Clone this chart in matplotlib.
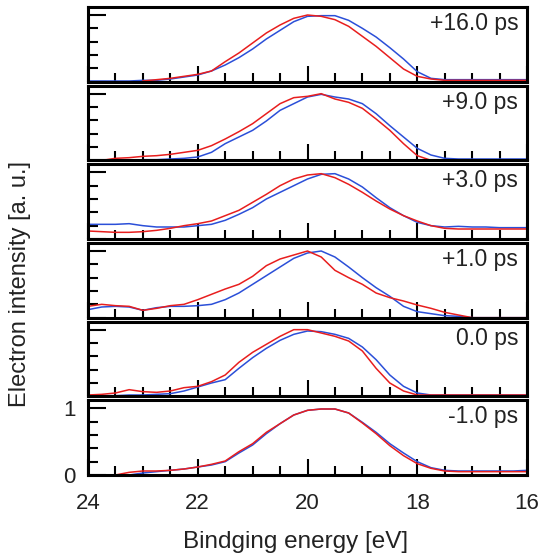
import numpy as np
import matplotlib
matplotlib.use("Agg")
import matplotlib.pyplot as plt
from matplotlib.ticker import MultipleLocator

plt.rcParams['font.family'] = ['Liberation Sans', 'DejaVu Sans']

# Binding energy grid (eV), 0.25 eV steps from 24 down to 16
energy = [24.0, 23.75, 23.5, 23.25, 23.0, 22.75, 22.5, 22.25, 22.0, 21.75, 21.5,
          21.25, 21.0, 20.75, 20.5, 20.25, 20.0, 19.75, 19.5, 19.25, 19.0, 18.75,
          18.5, 18.25, 18.0, 17.75, 17.5, 17.25, 17.0, 16.75, 16.5, 16.25, 16.0]

nan = np.nan
delays = ['+16.0 ps', '+9.0 ps', '+3.0 ps', '+1.0 ps', '0.0 ps', '-1.0 ps']

red_16 = [nan, nan, nan, nan, 0.01, 0.03, 0.05, 0.08, 0.11, 0.16, 0.30,
          0.43, 0.58, 0.73, 0.85, 0.95, 1.00, 0.98, 0.93, 0.83, 0.68, 0.53,
          0.36, 0.19, 0.08, 0.04, 0.02, 0.02, 0.02, 0.02, 0.02, 0.02, 0.02]
blue_16 = [0.01, 0.01, 0.01, 0.01, 0.02, 0.02, 0.04, 0.07, 0.10, 0.16, 0.25,
           0.36, 0.49, 0.64, 0.77, 0.90, 0.98, 0.99, 0.99, 0.92, 0.80, 0.67,
           0.51, 0.34, 0.15, 0.05, 0.03, 0.03, 0.03, 0.03, 0.03, 0.03, 0.03]

red_9 = [nan, 0.0, 0.03, 0.04, 0.06, 0.07, 0.09, 0.12, 0.15, 0.22, 0.32,
         0.43, 0.55, 0.70, 0.85, 0.94, 0.96, 1.00, 0.92, 0.87, 0.78, 0.62,
         0.45, 0.25, 0.07, 0.0, 0.0, 0.0, 0.0, 0.0, 0.0, 0.0, 0.0]
blue_9 = [nan, nan, nan, nan, 0.01, 0.01, 0.02, 0.03, 0.05, 0.12, 0.25,
          0.35, 0.45, 0.59, 0.75, 0.85, 0.95, 0.99, 0.95, 0.92, 0.85, 0.70,
          0.52, 0.35, 0.18, 0.08, 0.03, 0.02, 0.02, 0.02, 0.02, 0.02, 0.02]

red_3 = [0.12, 0.11, 0.10, 0.10, 0.11, 0.13, 0.16, 0.20, 0.23, 0.27, 0.35,
         0.43, 0.55, 0.67, 0.80, 0.90, 0.96, 0.98, 0.92, 0.82, 0.70, 0.57,
         0.45, 0.35, 0.27, 0.20, 0.16, 0.15, 0.15, 0.15, 0.15, 0.15, 0.15]
blue_3 = [0.22, 0.22, 0.22, 0.23, 0.20, 0.18, 0.18, 0.18, 0.20, 0.22, 0.28,
          0.37, 0.47, 0.60, 0.70, 0.80, 0.90, 0.97, 0.98, 0.90, 0.78, 0.62,
          0.47, 0.35, 0.25, 0.20, 0.18, 0.19, 0.18, 0.18, 0.17, 0.17, 0.17]

red_1 = [0.17, 0.20, 0.18, 0.17, 0.11, 0.14, 0.18, 0.20, 0.27, 0.35, 0.43,
         0.50, 0.62, 0.78, 0.88, 0.94, 1.00, 0.91, 0.71, 0.60, 0.50, 0.37,
         0.30, 0.25, 0.19, 0.14, 0.08, 0.04, 0.0, 0.0, 0.0, 0.0, 0.0]
blue_1 = [0.12, 0.16, 0.17, 0.16, 0.11, 0.15, 0.17, 0.17, 0.18, 0.20, 0.27,
          0.37, 0.50, 0.63, 0.76, 0.89, 0.97, 1.00, 0.91, 0.76, 0.60, 0.45,
          0.32, 0.17, 0.09, 0.06, 0.03, 0.02, 0.0, 0.0, 0.0, 0.0, 0.0]

red_0 = [0.02, 0.03, 0.05, 0.10, 0.07, 0.06, 0.08, 0.13, 0.15, 0.22, 0.32,
         0.51, 0.66, 0.78, 0.90, 1.00, 1.00, 0.95, 0.90, 0.83, 0.68, 0.42,
         0.20, 0.08, 0.02, 0.02, 0.02, 0.02, 0.02, 0.02, 0.02, 0.02, 0.02]
blue_0 = [0.01, 0.01, 0.01, 0.02, 0.02, 0.03, 0.04, 0.08, 0.14, 0.20, 0.25,
          0.42, 0.58, 0.72, 0.84, 0.93, 0.98, 0.97, 0.93, 0.87, 0.74, 0.55,
          0.32, 0.15, 0.05, 0.02, 0.02, 0.02, 0.02, 0.02, 0.02, 0.02, 0.02]

red_m1 = [nan, nan, 0.0, 0.04, 0.06, 0.06, 0.07, 0.09, 0.12, 0.16, 0.21,
          0.35, 0.47, 0.64, 0.77, 0.90, 0.97, 0.99, 0.99, 0.93, 0.78, 0.62,
          0.44, 0.29, 0.17, 0.10, 0.06, 0.05, 0.05, 0.05, 0.05, 0.05, 0.05]
blue_m1 = [nan, nan, nan, 0.0, 0.03, 0.05, 0.07, 0.09, 0.12, 0.15, 0.20,
           0.33, 0.45, 0.62, 0.77, 0.90, 0.97, 0.99, 0.99, 0.93, 0.79, 0.64,
           0.47, 0.33, 0.20, 0.11, 0.07, 0.06, 0.06, 0.06, 0.06, 0.06, 0.07]

red_curves = [red_16, red_9, red_3, red_1, red_0, red_m1]
blue_curves = [blue_16, blue_9, blue_3, blue_1, blue_0, blue_m1]

W, H = 542, 558
fig = plt.figure(figsize=(W / 100, H / 100), dpi=100)

left_px, right_px = 88, 527
top_px, bottom_px = 7, 475
gap_px = 4
n = len(delays)
panel_h = (bottom_px - top_px - gap_px * (n - 1)) / n

for i, label in enumerate(delays):
    y_top = top_px + i * (panel_h + gap_px)
    ax = fig.add_axes([left_px / W, 1 - (y_top + panel_h) / H,
                       (right_px - left_px) / W, panel_h / H])
    ax.plot(energy, blue_curves[i], color='#2b4fd8', lw=1.1)
    ax.plot(energy, red_curves[i], color='#e81e1e', lw=1.1)
    ax.set_xlim(24, 16)
    ax.set_ylim(0, 1.12)

    ax.xaxis.set_major_locator(MultipleLocator(2))
    ax.xaxis.set_minor_locator(MultipleLocator(0.5))
    ax.yaxis.set_major_locator(MultipleLocator(1))
    ax.yaxis.set_minor_locator(MultipleLocator(0.2))
    ax.tick_params(axis='x', which='major', direction='in', length=11.5, width=1.5,
                   top=False, labelsize=16, pad=13, labelcolor='#222222')
    ax.tick_params(axis='x', which='minor', direction='in', length=6.5, width=1.5, top=False)
    ax.tick_params(axis='y', which='major', direction='in', length=13, width=1.5,
                   right=False, labelsize=16, pad=9, labelcolor='#222222')
    ax.tick_params(axis='y', which='minor', direction='in', length=7, width=1.5, right=False)
    for sp in ax.spines.values():
        sp.set_linewidth(2.2)

    if i < n - 1:
        ax.tick_params(labelbottom=False, labelleft=False)

    ax.text(0.98, 0.78, label, transform=ax.transAxes, ha='right', va='center',
            fontsize=16.5, color='#222222')

fig.text(296 / W, 1 - 542 / H, 'Bindging energy [eV]', ha='center', va='center',
         fontsize=17.5, color='#222222')
fig.text(20 / W, 1 - 284 / H, 'Electron intensity [a. u.]', ha='center', va='center',
         rotation=90, fontsize=17, color='#222222')

fig.savefig('out.png', dpi=100)
